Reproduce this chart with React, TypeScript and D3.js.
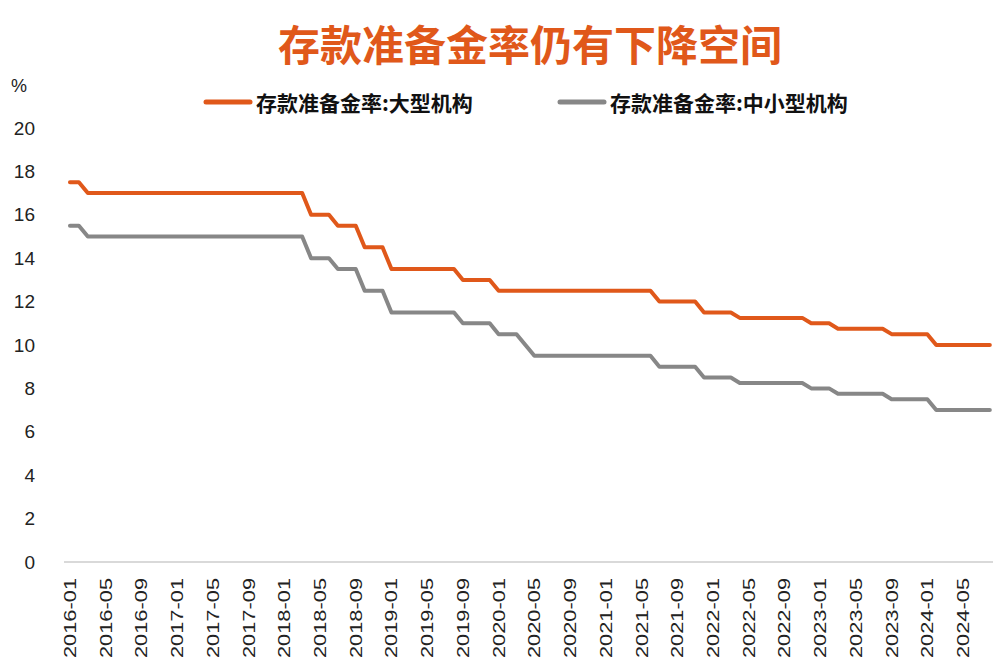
import React from 'react';
import * as d3 from 'd3';

const W = 1000;
const H = 665;

const TITLE = '存款准备金率仍有下降空间';
const SERIES_NAMES = ['存款准备金率:大型机构', '存款准备金率:中小型机构'];
const COLORS = ['#E0581A', '#878787'];

// monthly categories 2016-01 .. 2024-08
const months: string[] = d3
  .timeMonth.range(new Date(2016, 0, 1), new Date(2024, 8, 1))
  .map(d3.timeFormat('%Y-%m'));

const largeBanks: number[] = [
  // 2016
  17.5, 17.5, 17, 17, 17, 17, 17, 17, 17, 17, 17, 17,
  // 2017
  17, 17, 17, 17, 17, 17, 17, 17, 17, 17, 17, 17,
  // 2018
  17, 17, 17, 16, 16, 16, 15.5, 15.5, 15.5, 14.5, 14.5, 14.5,
  // 2019
  13.5, 13.5, 13.5, 13.5, 13.5, 13.5, 13.5, 13.5, 13, 13, 13, 13,
  // 2020
  12.5, 12.5, 12.5, 12.5, 12.5, 12.5, 12.5, 12.5, 12.5, 12.5, 12.5, 12.5,
  // 2021
  12.5, 12.5, 12.5, 12.5, 12.5, 12.5, 12, 12, 12, 12, 12, 11.5,
  // 2022
  11.5, 11.5, 11.5, 11.25, 11.25, 11.25, 11.25, 11.25, 11.25, 11.25, 11.25, 11,
  // 2023
  11, 11, 10.75, 10.75, 10.75, 10.75, 10.75, 10.75, 10.5, 10.5, 10.5, 10.5,
  // 2024
  10.5, 10, 10, 10, 10, 10, 10, 10,
];

const smallBanks: number[] = [
  // 2016
  15.5, 15.5, 15, 15, 15, 15, 15, 15, 15, 15, 15, 15,
  // 2017
  15, 15, 15, 15, 15, 15, 15, 15, 15, 15, 15, 15,
  // 2018
  15, 15, 15, 14, 14, 14, 13.5, 13.5, 13.5, 12.5, 12.5, 12.5,
  // 2019
  11.5, 11.5, 11.5, 11.5, 11.5, 11.5, 11.5, 11.5, 11, 11, 11, 11,
  // 2020
  10.5, 10.5, 10.5, 10, 9.5, 9.5, 9.5, 9.5, 9.5, 9.5, 9.5, 9.5,
  // 2021
  9.5, 9.5, 9.5, 9.5, 9.5, 9.5, 9, 9, 9, 9, 9, 8.5,
  // 2022
  8.5, 8.5, 8.5, 8.25, 8.25, 8.25, 8.25, 8.25, 8.25, 8.25, 8.25, 8,
  // 2023
  8, 8, 7.75, 7.75, 7.75, 7.75, 7.75, 7.75, 7.5, 7.5, 7.5, 7.5,
  // 2024
  7.5, 7, 7, 7, 7, 7, 7, 7,
];

const yTicks = [0, 2, 4, 6, 8, 10, 12, 14, 16, 18, 20];
const xTickLabels = [
  '2016-01', '2016-05', '2016-09', '2017-01', '2017-05', '2017-09',
  '2018-01', '2018-05', '2018-09', '2019-01', '2019-05', '2019-09',
  '2020-01', '2020-05', '2020-09', '2021-01', '2021-05', '2021-09',
  '2022-01', '2022-05', '2022-09', '2023-01', '2023-05', '2023-09',
  '2024-01', '2024-05',
];

const CJK = '"Noto Sans CJK SC", "Noto Sans", sans-serif';
const LATIN = '"Liberation Sans", Arial, sans-serif';

export default function App() {
  const x = d3.scaleBand<string>().domain(months).range([65.5, 994.3]).padding(0);
  const y = d3.scaleLinear().domain([0, 20]).range([562, 128]);
  const cx = (m: string) => (x(m) as number) + x.bandwidth() / 2;

  const line = d3
    .line<number>()
    .x((_, i) => cx(months[i]))
    .y((v) => y(v));

  const series = [largeBanks, smallBanks];

  return (
    <svg
      width={W}
      height={H}
      style={{ position: 'absolute', left: 0, top: 0, background: '#fff' }}
    >
      <rect x={0} y={0} width={W} height={H} fill="#fff" />
      <text
        x={530}
        y={42}
        textAnchor="middle"
        dominantBaseline="central"
        fontFamily={CJK}
        fontWeight={700}
        fontSize={42}
        fill={COLORS[0]}
      >
        {TITLE}
      </text>

      <text x={11} y={92} fontFamily={LATIN} fontSize={18} fill="#222">
        %
      </text>

      {/* legend */}
      {SERIES_NAMES.map((name, i) => {
        const lx = i === 0 ? 206 : 560;
        return (
          <g key={name}>
            <line
              x1={lx}
              x2={lx + 44}
              y1={102}
              y2={102}
              stroke={COLORS[i]}
              strokeWidth={5}
              strokeLinecap="round"
            />
            <text
              x={lx + 50}
              y={102}
              dominantBaseline="central"
              fontFamily={CJK}
              fontWeight={700}
              fontSize={21}
              fill="#111"
            >
              {name}
            </text>
          </g>
        );
      })}

      {/* y tick labels */}
      {yTicks.map((t) => (
        <text
          key={t}
          x={35}
          y={y(t)}
          textAnchor="end"
          dominantBaseline="central"
          fontFamily={LATIN}
          fontSize={19}
          fill="#222"
        >
          {t}
        </text>
      ))}

      {/* x axis line */}
      <line x1={64} x2={993} y1={562} y2={562} stroke="#d9d9d9" strokeWidth={2} />

      {/* x tick labels */}
      {xTickLabels.map((m) => (
        <text
          key={m}
          transform={`translate(${cx(m) + 6},${578}) rotate(-90)`}
          textAnchor="end"
          fontFamily={LATIN}
          fontSize={16}
          textLength={80}
          lengthAdjust="spacingAndGlyphs"
          fill="#222"
        >
          {m}
        </text>
      ))}

      {/* lines */}
      {series.map((s, i) => (
        <path
          key={i}
          d={line(s) || ''}
          fill="none"
          stroke={COLORS[i]}
          strokeWidth={4}
          strokeLinejoin="round"
          strokeLinecap="round"
        />
      ))}
    </svg>
  );
}
